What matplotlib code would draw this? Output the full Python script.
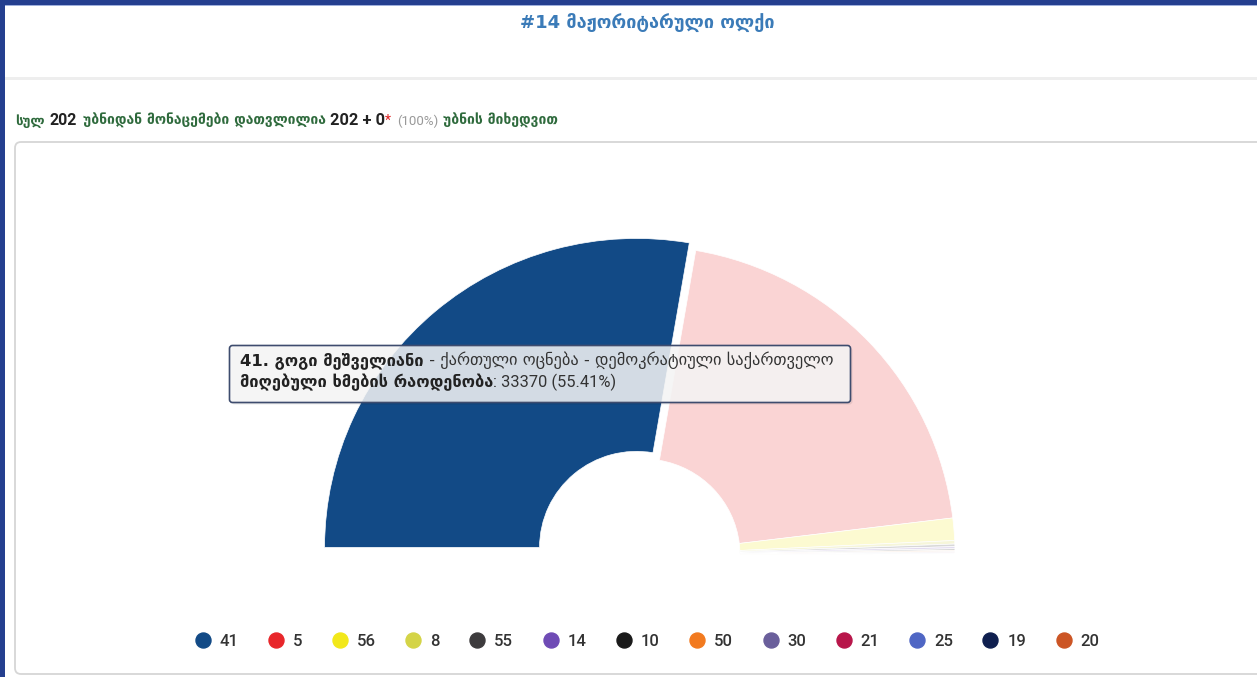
import matplotlib
matplotlib.use("Agg")
import matplotlib.pyplot as plt
import matplotlib.colors as mcolors
from matplotlib.patches import FancyBboxPatch, Rectangle
from matplotlib.lines import Line2D
import numpy as np

# ---------------- data ----------------
candidates = ['41', '5', '56', '8', '55', '14', '10', '50', '30', '21', '25', '19', '20']
votes = [33370, 24549, 1405, 220, 160, 130, 100, 80, 65, 50, 40, 30, 25]
colors = ['#124a86', '#e8262a', '#f2e81a', '#d4d447', '#3d3b3d', '#6f4bb5', '#1a1a1a',
          '#f27a1f', '#6a5f9b', '#b8164a', '#4f66c4', '#0f1f4f', '#cc5524']
title_text = "#14 მაჟორიტარული ოლქი"
tooltip_name = "41. გოგი მეშველიანი"
tooltip_party = " - ქართული ოცნება - დემოკრატიული საქართველო"
tooltip_label = "მიღებული ხმების რაოდენობა"
hovered = 0

W, H = 1257, 677
fig = plt.figure(figsize=(W / 100, H / 100), dpi=100)
fig.patch.set_facecolor('white')

GEO = ['DejaVu Sans']
NUM = ['Roboto', 'DejaVu Sans']

# background axes in pixel coordinates (y down)
ax_bg = fig.add_axes([0, 0, 1, 1])
ax_bg.set_xlim(0, W)
ax_bg.set_ylim(H, 0)
ax_bg.axis('off')
ax_bg.set_zorder(0)

# frame borders of the screenshot
ax_bg.add_patch(Rectangle((0, 0), W, 4.5, color='#243f8f', lw=0))
ax_bg.add_patch(Rectangle((0, 4.5), W, 1.2, color='#9fb0dc', lw=0))
ax_bg.add_patch(Rectangle((0, 0), 4.5, H, color='#243f8f', lw=0))
# header separator
ax_bg.add_patch(Rectangle((4.5, 77), W, 2.5, color='#eeeeee', lw=0))
# chart box
ax_bg.add_patch(FancyBboxPatch((15, 142), 1260, 532,
                               boxstyle='round,pad=0,rounding_size=6',
                               fc='white', ec='#d6d6d6', lw=1.3))

# title
ax_bg.text(647, 23, title_text, ha='center', va='center', fontsize=13,
           fontweight='bold', color='#3b7bb8', family=GEO)

fig.canvas.draw()
renderer = fig.canvas.get_renderer()


def seq(ax, x, y, parts):
    for s, gap, kw in parts:
        t = ax.text(x, y, s, ha='left', va='baseline', **kw)
        bb = t.get_window_extent(renderer)
        x += bb.width + gap
    return x


green = '#2e6a3c'
dark = '#222222'
seq(ax_bg, 15, 125, [
    ("სულ", 5, dict(fontsize=9.5, color=green, family=GEO, fontweight='bold')),
    ("202", 6, dict(fontsize=11.5, color=dark, family=NUM, fontweight='bold')),
    ("უბნიდან მონაცემები დათვლილია", 4, dict(fontsize=10, color=green, family=GEO, fontweight='bold')),
    ("202 + 0", 0, dict(fontsize=11.8, color=dark, family=NUM, fontweight='bold')),
    ("*", 6, dict(fontsize=10, color='#e02020', family=NUM)),
    ("(100%)", 5, dict(fontsize=9.5, color='#999999', family=NUM)),
    ("უბნის მიხედვით", 0, dict(fontsize=10, color=green, family=GEO, fontweight='bold')),
])

# ---------------- pie (semi circle) ----------------
cx, cy = 643, 555          # pixel centre (y from top)
rx, ry = 312, 309          # pixel radii
ax_w, ax_h = 2.5 * rx, 2.5 * ry
ax_pie = fig.add_axes([(cx - ax_w / 2) / W, ((H - cy) - ax_h / 2) / H, ax_w / W, ax_h / H])
ax_pie.set_zorder(1)
ax_pie.patch.set_alpha(0)

total = float(sum(votes))
fracs = [v / total / 2 for v in votes]
white = np.array([1.0, 1.0, 1.0])
face = []
for i, c in enumerate(colors):
    rgb = np.array(mcolors.to_rgb(c))
    face.append(tuple(rgb if i == hovered else 0.2 * rgb + 0.8 * white))
explode = [0.032 if i == hovered else 0 for i in range(len(votes))]
ax_pie.pie(fracs, normalize=False, startangle=180, counterclock=False, colors=face,
           explode=explode, radius=1,
           wedgeprops=dict(width=1 - 97 / rx, edgecolor='white', linewidth=0.5))
ax_pie.set_aspect('auto')
ax_pie.set_xlim(-1.25, 1.25)
ax_pie.set_ylim(-1.25, 1.25)
ax_pie.axis('off')

# ---------------- overlay (tooltip + legend) ----------------
ax_top = fig.add_axes([0, 0, 1, 1])
ax_top.set_xlim(0, W)
ax_top.set_ylim(H, 0)
ax_top.axis('off')
ax_top.patch.set_alpha(0)
ax_top.set_zorder(2)

# shadow + tooltip box
ax_top.add_patch(FancyBboxPatch((231.5, 347.5), 621, 57, boxstyle='round,pad=0,rounding_size=3',
                                fc=(0, 0, 0, 0.08), ec='none'))
ax_top.add_patch(FancyBboxPatch((229.5, 345.5), 621, 57, boxstyle='round,pad=0,rounding_size=3',
                                fc=(247 / 255, 247 / 255, 247 / 255, 0.85), ec='#3e4c6e', lw=1.2))
pct = votes[hovered] / total * 100
fs_tt = 11.8
seq(ax_top, 240, 365, [
    (tooltip_name, 0, dict(fontsize=fs_tt, color='#222222', family=GEO, fontweight='bold')),
    (tooltip_party, 0, dict(fontsize=fs_tt, color='#333333', family=GEO)),
])
seq(ax_top, 240, 387, [
    (tooltip_label, 0, dict(fontsize=fs_tt, color='#222222', family=GEO, fontweight='bold')),
    (": %d (%.2f%%)" % (votes[hovered], pct), 0, dict(fontsize=fs_tt, color='#333333', family=NUM)),
])

# legend
handles = [Line2D([], [], ls='none', marker='o', markersize=10.8, markerfacecolor=c,
                  markeredgecolor=c) for c in colors]
leg = ax_top.legend(handles, candidates, loc='center', bbox_to_anchor=(647.5 / W, 1 - 641 / H),
                    bbox_transform=fig.transFigure, ncol=len(candidates), frameon=False,
                    handlelength=0.875, handletextpad=0.58, columnspacing=1.81,
                    prop=dict(family=NUM, size=12, weight='medium'))
for t in leg.get_texts():
    t.set_color('#333333')

fig.savefig('out.png', dpi=100, facecolor='white')
